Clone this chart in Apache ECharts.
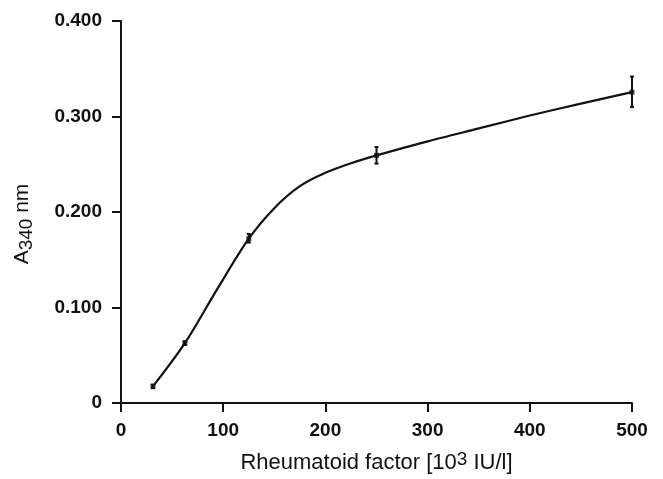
<!DOCTYPE html>
<html>
<head>
<meta charset="utf-8">
<script src="https://cdn.jsdelivr.net/npm/echarts@6/dist/echarts.min.js"></script>
<style>
  html, body { margin: 0; padding: 0; background: #fff; }
  #chart { width: 663px; height: 479px; }
</style>
</head>
<body>
<div id="chart"></div>
<script>
// measured points (RF concentration, absorbance) and error bar limits
const conc = [31.25, 62.5, 125, 250, 500]
const absorb = [0.0174, 0.0627, 0.172, 0.2593, 0.3255]
const errLow = [0.0155, 0.0607, 0.168, 0.2507, 0.3099]
const errHigh = [0.0193, 0.0647, 0.177, 0.268, 0.3418]

// fitted curve
const curveX = [31.25, 62.5, 94, 125, 150, 175, 200, 225, 250, 300, 350, 400, 450, 500]
const curveY = [0.0174, 0.0627, 0.119, 0.172, 0.204, 0.227, 0.241, 0.251, 0.2593, 0.274, 0.2875, 0.301, 0.3135, 0.3255]

const xTicks = [0, 100, 200, 300, 400, 500]
const yTicks = [0, 0.1, 0.2, 0.3, 0.4]

const chartId = document.getElementById('chart')
let myChart = echarts.init(chartId)

const font = 'Liberation Sans, Arial, sans-serif'

const option = {
  animation: false,
  grid: { left: 121, right: 31, top: 21, bottom: 75 },
  xAxis: {
    type: 'value',
    min: xTicks[0],
    max: xTicks[xTicks.length - 1],
    interval: 100,
    splitLine: { show: false },
    axisLine: { lineStyle: { color: '#111', width: 2 } },
    axisTick: { inside: false, length: 9, lineStyle: { color: '#111', width: 2 } },
    axisLabel: { color: '#111', fontSize: 19, fontWeight: 'bold', fontFamily: font, margin: 18 },
    name: '{a|Rheumatoid factor [10}{sup|3}{a| IU/l]}',
    nameLocation: 'middle',
    nameGap: 47,
    nameTextStyle: {
      rich: {
        a: { fontSize: 22, color: '#111', fontFamily: font, verticalAlign: 'bottom', lineHeight: 24 },
        sup: { fontSize: 19, color: '#111', fontFamily: font, verticalAlign: 'top', lineHeight: 24 }
      }
    }
  },
  yAxis: {
    type: 'value',
    min: yTicks[0],
    max: yTicks[yTicks.length - 1],
    interval: 0.1,
    splitLine: { show: false },
    axisLine: { show: true, lineStyle: { color: '#111', width: 2 } },
    axisTick: { show: true, inside: false, length: 9, lineStyle: { color: '#111', width: 2 } },
    axisLabel: {
      color: '#111', fontSize: 19, fontWeight: 'bold', fontFamily: font, margin: 19,
      formatter: v => (v === 0 ? '0' : v.toFixed(3))
    },
    name: '{a|A}{sub|340}{a| nm}',
    nameLocation: 'middle',
    nameRotate: 90,
    nameGap: 85,
    nameTextStyle: {
      padding: [0, 24, 0, 0],
      rich: {
        a: { fontSize: 21, color: '#111', fontFamily: font, verticalAlign: 'top', lineHeight: 24 },
        sub: { fontSize: 19, color: '#111', fontFamily: font, verticalAlign: 'bottom', lineHeight: 24 }
      }
    }
  },
  series: [
    {
      name: 'fit',
      type: 'line',
      smooth: 0.3,
      symbol: 'none',
      lineStyle: { color: '#111', width: 2.2 },
      data: curveX.map((x, i) => [x, curveY[i]])
    },
    {
      name: 'measured',
      type: 'scatter',
      symbol: 'rect',
      symbolSize: 5,
      itemStyle: { color: '#111' },
      data: conc.map((x, i) => [x, absorb[i]])
    },
    {
      name: 'error',
      type: 'custom',
      data: conc.map((x, i) => [x, errLow[i], errHigh[i]]),
      renderItem: (params, api) => {
        const lo = api.coord([api.value(0), api.value(1)])
        const hi = api.coord([api.value(0), api.value(2)])
        const w = 2
        const style = { stroke: '#111', lineWidth: 2 }
        return {
          type: 'group',
          children: [
            { type: 'line', shape: { x1: lo[0], y1: lo[1], x2: hi[0], y2: hi[1] }, style },
            { type: 'line', shape: { x1: lo[0] - w, y1: lo[1], x2: lo[0] + w, y2: lo[1] }, style },
            { type: 'line', shape: { x1: hi[0] - w, y1: hi[1], x2: hi[0] + w, y2: hi[1] }, style }
          ]
        }
      }
    }
  ]
}

myChart.setOption(option)
</script>
</body>
</html>
